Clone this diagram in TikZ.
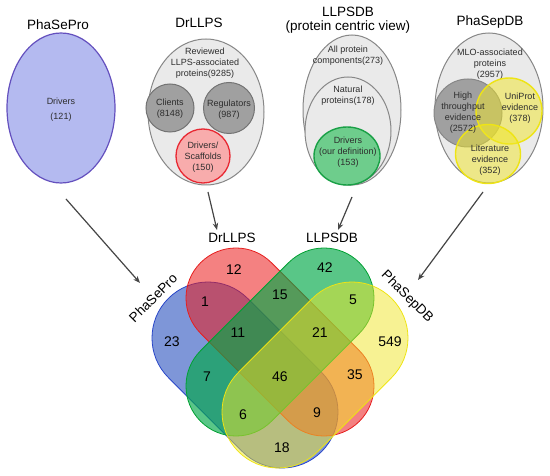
\documentclass[tikz,border=0pt]{standalone}
\usepackage{fontspec}
\setmainfont{Liberation Sans}
\usetikzlibrary{shapes.geometric,arrows.meta}
\definecolor{profill}{RGB}{180,186,240}
\definecolor{proborder}{RGB}{100,80,190}
\definecolor{glight}{RGB}{234,234,234}
\definecolor{gborder}{RGB}{135,135,135}
\definecolor{gmid}{RGB}{160,160,160}
\definecolor{gdark}{RGB}{115,115,115}
\definecolor{redl}{RGB}{248,172,172}
\definecolor{redb}{RGB}{232,40,50}
\definecolor{grl}{RGB}{110,205,140}
\definecolor{grb}{RGB}{25,160,70}
\definecolor{yelf}{RGB}{240,230,40}
\definecolor{yelb}{RGB}{238,228,20}
\definecolor{arrowgray}{RGB}{70,70,70}
\definecolor{txtgray}{RGB}{45,45,45}
\definecolor{vbluef}{RGB}{40,80,190}
\definecolor{vblueb}{RGB}{40,70,200}
\definecolor{vredf}{RGB}{235,25,25}
\definecolor{vredb}{RGB}{230,30,30}
\definecolor{vgreenf}{RGB}{0,168,70}
\definecolor{vgreenb}{RGB}{0,160,50}
\newcommand{\vstadium}[7]{\path[#1] (#2,#3) ++({#7+90}:#6pt) arc[start angle={#7+90}, delta angle=180, radius=#6pt] -- ++(#4,#5) arc[start angle={#7+270}, delta angle=180, radius=#6pt] -- cycle;}
\begin{document}
\begin{tikzpicture}[x=1pt,y=1pt,
  titlet/.style={font=\fontsize{13.5}{14.5}\selectfont, text=black, align=center, inner sep=0},
  smallt/.style={font=\fontsize{9}{11}\selectfont, text=txtgray, align=center, inner sep=0},
  numt/.style={font=\fontsize{14}{16}\selectfont, text=black, inner sep=0},
  setl/.style={font=\fontsize{13.5}{16}\selectfont, text=black, inner sep=0},
  arr/.style={draw=arrowgray, line width=1.2pt, -{Stealth[length=7pt,width=5.5pt]}},
  ell/.style={ellipse, inner sep=0, draw, line width=1pt},
  circ/.style={circle, inner sep=0, draw, line width=1pt},
  yelc/.style={draw=yelb, fill=yelf, fill opacity=0.5, line width=1.4pt, inner sep=0},
]
\useasboundingbox (0,0) rectangle (550,475);
% ---- PhaSePro
\node[titlet] (tpro) at (58,450) {PhaSePro};
\node[ell, draw=proborder, fill=profill, line width=1.2pt, minimum width=108pt, minimum height=150pt] (pro) at (61,367) {};
\node[smallt, font=\fontsize{9}{15}\selectfont] (tdrv) at (61,365) {Drivers\\(121)};
% ---- DrLLPS
\node[titlet] (tdrl) at (199,452) {DrLLPS};
\node[ell, draw=gborder, fill=glight, minimum width=116pt, minimum height=146pt] (drl) at (206,363) {};
\node[smallt] (trev) at (205,412) {Reviewed\\LLPS-associated\\proteins(9285)};
\node[circ, draw=gdark, fill=gmid, minimum size=48pt] (cli) at (170,367) {};
\node[circ, draw=gdark, fill=gmid, minimum size=51pt] (reg) at (229,367) {};
\node[circ, draw=redb, fill=redl, line width=1.3pt, minimum size=54pt] (dsc) at (203,319) {};
\node[smallt] (tcli) at (170,366) {Clients\\(8148)};
\node[smallt] (treg) at (229,365) {Regulators\\(987)};
\node[smallt] (tdsc) at (203,317.5) {Drivers/\\Scaffolds\\(150)};
% ---- LLPSDB
\node[titlet] (tllp) at (348,455) {LLPSDB\\(protein centric view)};
\node[ell, draw=gborder, fill=glight, minimum width=98pt, minimum height=150pt] (llp) at (352,365) {};
\node[ell, draw=gborder, fill=glight, minimum width=86pt, minimum height=108pt] (nat) at (348,344) {};
\node[ell, draw=grb, fill=grl, line width=1.4pt, minimum width=66pt, minimum height=58pt] (ldrv) at (347,319) {};
\node[smallt] (tall) at (348,419) {All protein\\components(273)};
\node[smallt] (tnat) at (348,379) {Natural\\proteins(178)};
\node[smallt] (tldrv) at (348,323) {Drivers\\(our definition)\\(153)};
% ---- PhaSepDB
\node[titlet] (tpsdb) at (490,453) {PhaSepDB};
\node[ell, draw=gborder, fill=glight, minimum width=108pt, minimum height=150pt] (psdb) at (489,367) {};
\node[smallt] (tmlo) at (490,411) {MLO-associated\\proteins\\(2957)};
\node[circ, draw=gborder, fill=gmid, minimum size=68pt] (ht) at (468,362) {};
\node[circle, yelc, minimum size=66pt] (uni) at (509,364) {};
\node[ellipse, yelc, minimum width=65pt, minimum height=59pt] (lit) at (488,321) {};
\node[smallt] (tht) at (463,362.5) {High\\throughput\\evidence\\(2572)};
\node[smallt] (tuni) at (520,367) {UniProt\\evidence\\(378)};
\node[smallt] (tlit) at (490,315) {Literature\\evidence\\(352)};
% ---- Venn
\vstadium{draw=vblueb, fill=vbluef, fill opacity=0.6, line width=0.8pt}{208}{137}{74}{-74}{56}{-45}
\vstadium{draw=vredb, fill=vredf, fill opacity=0.55, line width=0.8pt}{236}{177}{88}{-88}{50}{-45}
\vstadium{draw=vgreenb, fill=vgreenf, fill opacity=0.65, line width=0.8pt}{324}{177}{-88}{-88}{50}{225}
\vstadium{draw=yelb, fill=yelf, fill opacity=0.5, line width=0.8pt}{352}{137}{-74}{-74}{56}{225}
\node[setl] (vdrl) at (232,237) {DrLLPS};
\node[setl] (vllp) at (332,237) {LLPSDB};
\node[setl, rotate=45] (vpro) at (153,177) {PhaSePro};
\node[setl, rotate=-45] (vpsdb) at (407,178) {PhaSepDB};
\node[numt] (n12) at (234,205) {12};
\node[numt] (n42) at (325,207) {42};
\node[numt] (n1) at (205,173) {1};
\node[numt] (n15) at (280,180) {15};
\node[numt] (n5) at (353,175) {5};
\node[numt] (n23) at (172,133) {23};
\node[numt] (n11) at (238,142) {11};
\node[numt] (n21) at (320,142) {21};
\node[numt] (n549) at (390,133) {549};
\node[numt] (n7) at (207,98) {7};
\node[numt] (n46) at (280,98) {46};
\node[numt] (n35) at (355,100) {35};
\node[numt] (n6) at (243,60) {6};
\node[numt] (n9) at (317,62) {9};
\node[numt] (n18) at (282,27) {18};
% ---- arrows
\coordinate (a1s) at (66,276); \coordinate (a1e) at (140,192);
\coordinate (a2s) at (208,283); \coordinate (a2e) at (217,245);
\coordinate (a3s) at (352,278); \coordinate (a3e) at (338,245);
\coordinate (a4s) at (483,283); \coordinate (a4e) at (418,195);
\draw[arr] (a1s) -- (a1e);
\draw[arr] (a2s) -- (a2e);
\draw[arr] (a3s) -- (a3e);
\draw[arr] (a4s) -- (a4e);
\end{tikzpicture}
\end{document}
